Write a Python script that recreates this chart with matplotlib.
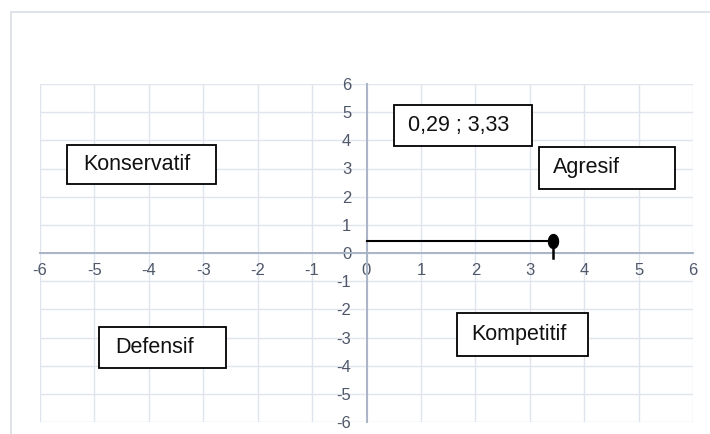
import numpy as np
import matplotlib
matplotlib.use("Agg")
from matplotlib import pyplot as plt
from matplotlib.patches import Rectangle
from matplotlib.path import Path

plt.rcParams['font.family'] = ['Liberation Sans', 'DejaVu Sans']
plt.rcParams['axes.unicode_minus'] = False

# data
ticks = np.arange(-6, 7, 1)
point_x = 3.42
point_y = 0.43
drop_to = -0.18

# quadrant text boxes: label, box (left, top, right, bottom) in pixels, text left
box_labels = ['0,29 ; 3,33', 'Agresif', 'Konservatif', 'Defensif', 'Kompetitif']
box_pix = [(394, 105, 532, 146), (539, 147, 675, 189), (67, 145, 216, 184),
           (99, 327, 226, 368), (457, 313, 588, 356)]
text_left = [408, 553, 83, 115, 471]

W, H = 710, 434
fig = plt.figure(figsize=(W / 100, H / 100), dpi=100)
ax = fig.add_axes([40 / W, 1 - 422 / H, (693 - 40) / W, (422 - 84) / H])

grid_c = '#dfe4ed'
axis_c = '#a9b4c6'
lab_c = '#4f5869'

ax.set_xlim(-6, 6)
ax.set_ylim(-6, 6)
ax.set_xticks(ticks)
ax.set_yticks(ticks)
ax.grid(True, color=grid_c, lw=1)
for gl in ax.get_xgridlines() + ax.get_ygridlines():
    gl.set_clip_on(False)

ax.spines['left'].set_position(('data', 0))
ax.spines['bottom'].set_position(('data', 0))
ax.spines['top'].set_visible(False)
ax.spines['right'].set_visible(False)
for s in ['left', 'bottom']:
    ax.spines[s].set_color(axis_c)
    ax.spines[s].set_linewidth(1.4)
ax.tick_params(axis='both', length=0, labelsize=12, labelcolor=lab_c)
ax.tick_params(axis='y', pad=11)
ax.tick_params(axis='x', pad=7)
ax.set_axisbelow(True)

# point with lines
t = np.linspace(0, 2 * np.pi, 60)
ell = Path(np.column_stack([0.72 * np.cos(t), np.sin(t)]))
ax.plot([0, point_x], [point_y, point_y], color='black', lw=1.5, zorder=4)
ax.plot([point_x, point_x], [point_y, drop_to], color='black', lw=1.8, zorder=4)
ax.plot([point_x], [point_y], marker=ell, ms=10, color='black', zorder=5, clip_on=False)

# text boxes
for lab, (x0, y0, x1, y1), tx in zip(box_labels, box_pix, text_left):
    fig.add_artist(Rectangle((x0 / W, 1 - y1 / H), (x1 - x0) / W, (y1 - y0) / H,
                             transform=fig.transFigure, facecolor='white',
                             edgecolor='black', lw=1.3, zorder=6))
    fig.text(tx / W, 1 - (y0 + y1) / 2 / H, lab, ha='left', va='center',
             fontsize=15.5, color='#111111', zorder=7)

# outer chart frame
fig.add_artist(Rectangle((11 / W, -0.1), 1.2, 1 - 12 / H + 0.1,
                         transform=fig.transFigure, fill=False,
                         edgecolor='#d9dde3', lw=1.2, zorder=0))

fig.savefig('out.png', dpi=100)
